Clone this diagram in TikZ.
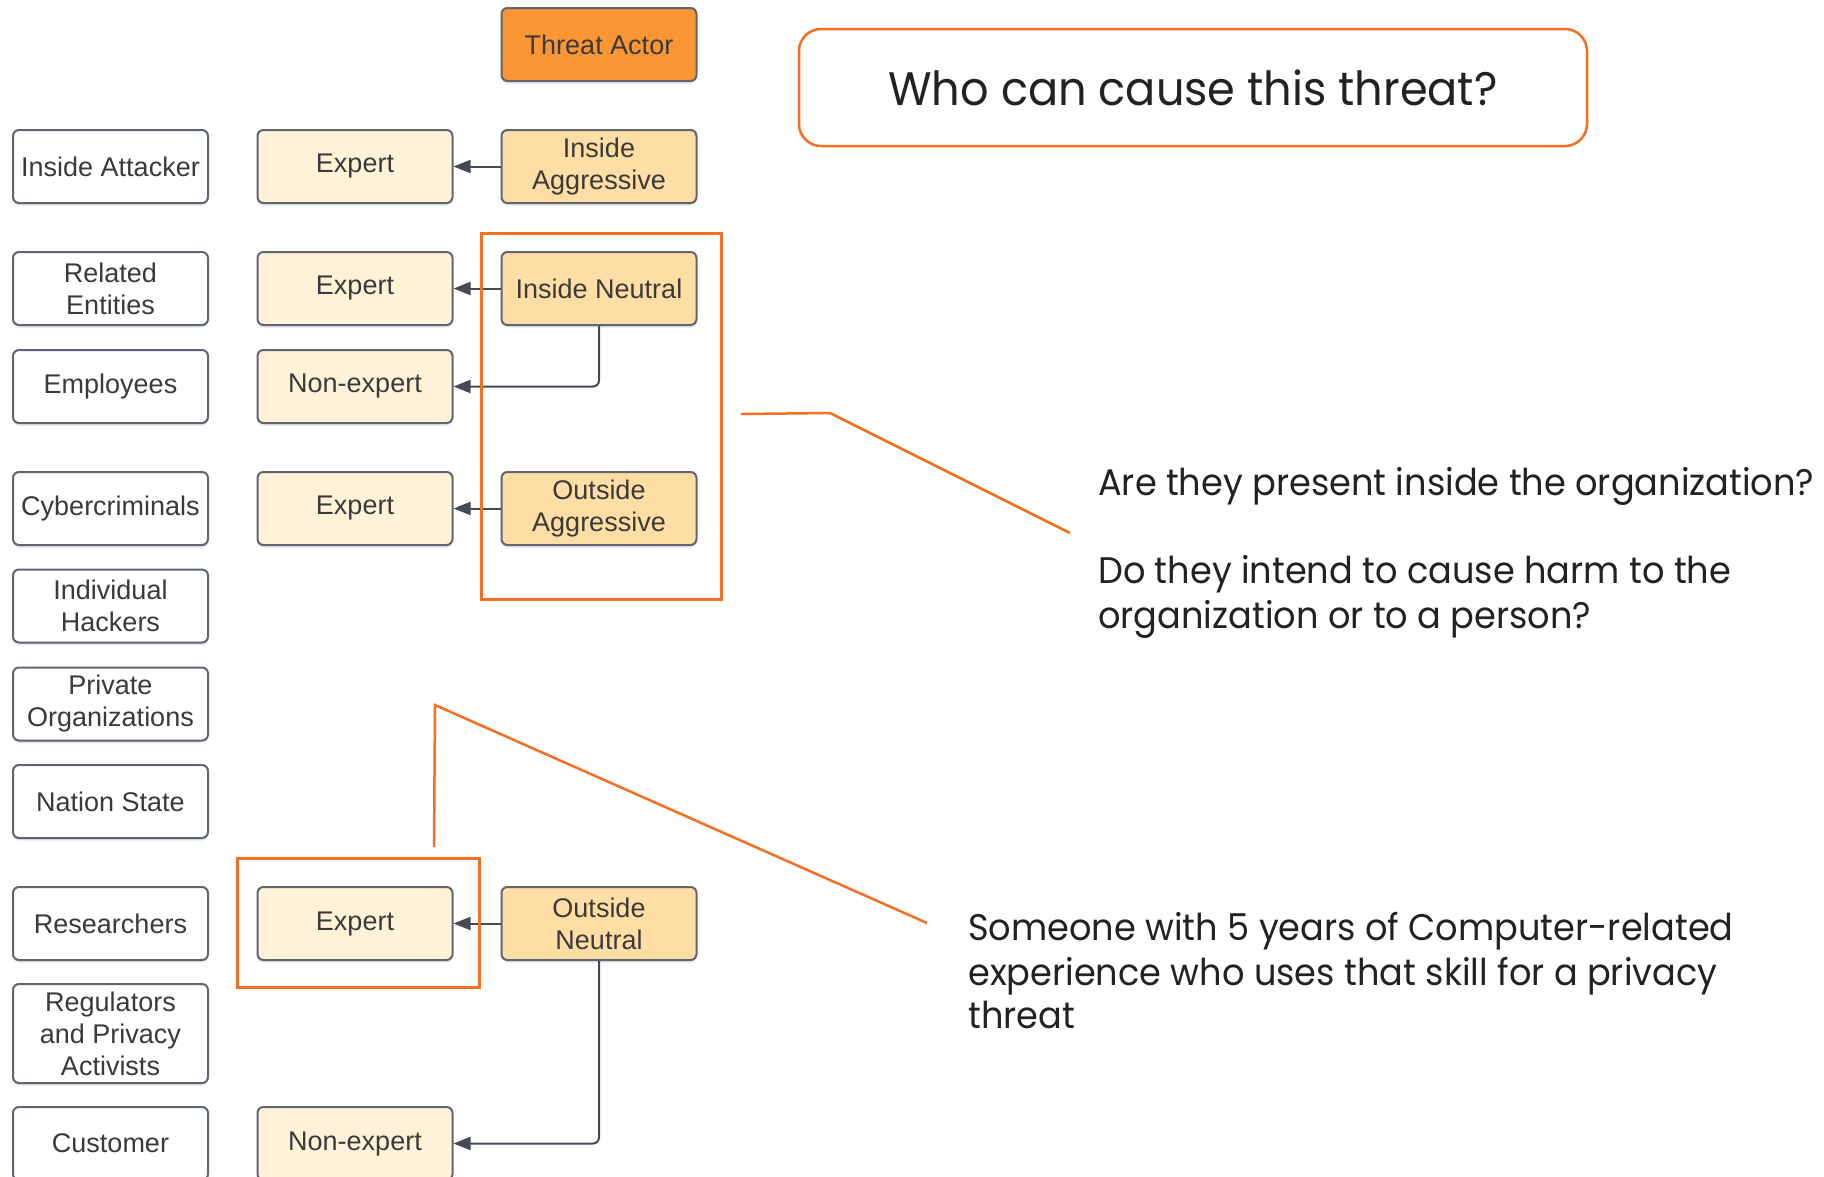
\documentclass[tikz,border=0pt]{standalone}
\usepackage{fontspec}
\usetikzlibrary{arrows.meta}
\newfontfamily\boxfont{Liberation Sans}
\newfontfamily\notefont[FakeStretch=0.95]{Poppins}

\definecolor{textgray}{HTML}{3A3A3A}
\definecolor{edgegray}{HTML}{5F6670}
\definecolor{conngray}{HTML}{454B55}
\definecolor{hilite}{HTML}{F36F21}
\definecolor{actorfill}{HTML}{FA9633}
\definecolor{midfill}{HTML}{FEDEA4}
\definecolor{lightfill}{HTML}{FFF2D8}
\definecolor{notetext}{HTML}{222222}

\tikzset{
  card/.style={rounded corners=6pt, draw=edgegray, line width=2pt,
    minimum width=195pt, minimum height=73pt, inner sep=0pt, align=center,
    text=textgray, font=\boxfont\fontsize{27}{32}\selectfont,
    preaction={fill=black, opacity=.10, transform canvas={yshift=-2.5pt}}},
  plain/.style={card, fill=white},
  skill/.style={card, fill=lightfill},
  kind/.style={card, fill=midfill},
  actor/.style={card, fill=actorfill},
  conn/.style={draw=conngray, line width=2pt, rounded corners=6pt,
    -{Triangle[length=17pt,width=13pt]}},
  frame/.style={draw=hilite, line width=3pt},
  callout/.style={draw=hilite, line width=2.5pt},
  note/.style={anchor=base west, inner sep=0pt, text=notetext,
    font=\notefont\fontsize{37}{44}\selectfont},
}

\begin{document}
\begin{tikzpicture}[x=1pt, y=-1pt]
\useasboundingbox (0,0) rectangle (1824,1176);
\clip (0,0) rectangle (1824,1176);
\fill[white] (0,0) rectangle (1824,1176);

% column 3: threat actor categories
\node[actor] (actor) at (599,44.5) {Threat Actor};
\node[kind] (ia) at (599,166.5) {Inside\\Aggressive};
\node[kind] (in) at (599,288.5) {Inside Neutral};
\node[kind] (oa) at (599,508.5) {Outside\\Aggressive};
\node[kind] (on) at (599,923.5) {Outside\\Neutral};

% column 2: skill levels
\node[skill] (e1) at (355,166.5) {Expert};
\node[skill] (e2) at (355,288.5) {Expert};
\node[skill] (ne3) at (355,386.5) {Non-expert};
\node[skill] (e4) at (355,508.5) {Expert};
\node[skill] (e5) at (355,923.5) {Expert};
\node[skill] (ne6) at (355,1143.5) {Non-expert};

% column 1: concrete actors
\node[plain] (att) at (110.5,166.5) {Inside Attacker};
\node[plain] (rel) at (110.5,288.5) {Related\\Entities};
\node[plain] (emp) at (110.5,386.5) {Employees};
\node[plain] (cyb) at (110.5,508.5) {Cybercriminals};
\node[plain] (ind) at (110.5,606) {Individual\\Hackers};
\node[plain] (prv) at (110.5,704) {Private\\Organizations};
\node[plain] (nat) at (110.5,801.5) {Nation State};
\node[plain] (res) at (110.5,923.5) {Researchers};
\node[plain, minimum height=99pt] (reg) at (110.5,1033.5) {Regulators\\and Privacy\\Activists};
\node[plain] (cus) at (110.5,1143.5) {Customer};

% connectors
\draw[conn] (ia) -- (e1);
\draw[conn] (in) -- (e2);
\draw[conn] (in.south) |- (ne3);
\draw[conn] (oa) -- (e4);
\draw[conn] (on) -- (e5);
\draw[conn] (on.south) |- (ne6);

% highlight frames
\draw[frame] (481,233) rectangle (721.5,599);
\draw[frame] (237,858) rectangle (479,987);

% question box
\node[draw=hilite, line width=2.5pt, rounded corners=22pt, minimum width=788pt,
  minimum height=117pt, inner sep=0pt, text=notetext,
  font=\notefont\fontsize{47}{56}\selectfont] (title) at (1193,87.5)
  {Who can cause this threat?};

% callouts
\coordinate (c1a) at (741,414);
\coordinate (c1b) at (830,413);
\coordinate (c1c) at (1070,533);
\draw[callout] (c1a) -- (c1b) -- (c1c);
\coordinate (c2a) at (434,847);
\coordinate (c2b) at (435,705);
\coordinate (c2c) at (927,923);
\draw[callout] (c2a) -- (c2b) -- (c2c);

% notes
\node[note] (q1) at (1098,495) {Are they present inside the organization?};
\node[note] (q2) at (1098,583) {Do they intend to cause harm to the};
\node[note] (q3) at (1098,628) {organization or to a person?};
\node[note] (s1) at (968,940) {Someone with 5 years of Computer-related};
\node[note] (s2) at (968,985) {experience who uses that skill for a privacy};
\node[note] (s3) at (968,1028) {threat};
\end{tikzpicture}
\end{document}
